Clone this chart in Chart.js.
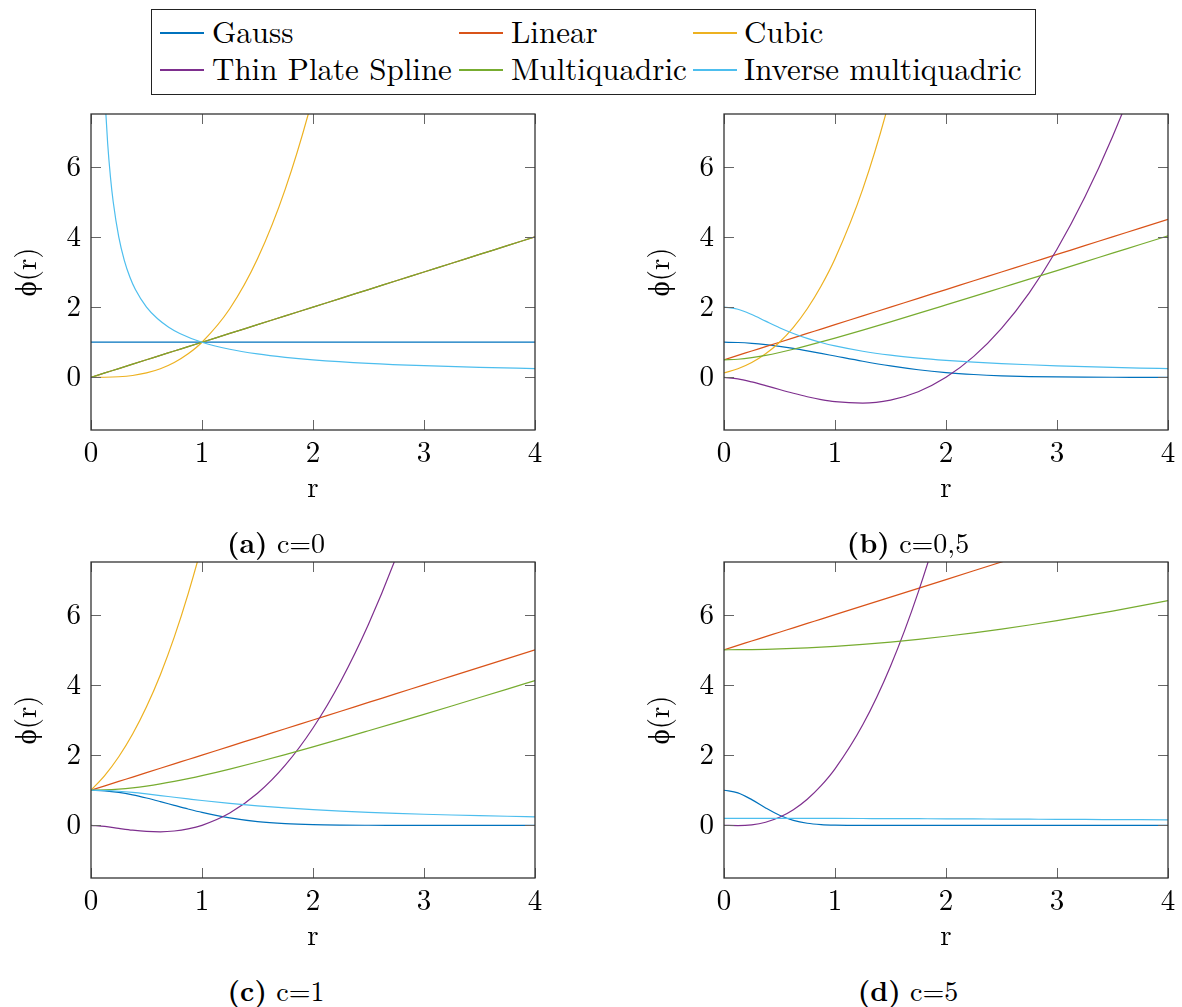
<!DOCTYPE html>
<html>
<head>
<meta charset="utf-8">
<title>Radial basis functions</title>
<script src="https://cdn.jsdelivr.net/npm/chart.js@4.4.1/dist/chart.umd.min.js"></script>
<style>
    body { margin: 0; background: #fff; }
    #page { position: relative; width: 1182px; height: 1007px; font-family: 'Latin Modern Roman', 'CMU Serif', 'Liberation Serif', serif; color: #000; overflow: hidden; }
    .panel { position: absolute; width: 549px; height: 420px; }
    .caption { position: absolute; font-size: 28px; line-height: 28px; transform: translate(-50%, -50%); white-space: nowrap; }
    #legendBox { position: absolute; left: 151px; top: 9px; width: 883px; height: 84px; border: 1px solid #222; }
    .lg-line { position: absolute; width: 44px; height: 1.5px; }
    .lg-text { position: absolute; font-size: 31px; line-height: 31px; white-space: nowrap; }
</style>
</head>
<body>
<div id="page">
    <div id="legendBox"></div>
    <div id="legend"></div>
    <div class="panel" style="left:0px;top:100px"><canvas id="chartA" width="549" height="420"></canvas></div>
    <div class="panel" style="left:633px;top:100px"><canvas id="chartB" width="549" height="420"></canvas></div>
    <div class="panel" style="left:0px;top:548px"><canvas id="chartC" width="549" height="420"></canvas></div>
    <div class="panel" style="left:633px;top:548px"><canvas id="chartD" width="549" height="420"></canvas></div>
    <div class="caption" style="left:276px;top:541px"><b>(a)</b> c=0</div>
    <div class="caption" style="left:908px;top:541px"><b>(b)</b> c=0,5</div>
    <div class="caption" style="left:276px;top:989px"><b>(c)</b> c=1</div>
    <div class="caption" style="left:908px;top:989px"><b>(d)</b> c=5</div>
</div>
<script>
// Datos
const r = [0, 0.125, 0.25, 0.375, 0.5, 0.625, 0.75, 0.875, 1, 1.25, 1.5, 1.75, 2, 2.25, 2.5, 2.75, 3, 3.25, 3.5, 3.75, 4];
// malla más fina cerca de 0 para la multicuádrica inversa con c=0
const rInv = [0.125, 0.15, 0.175, 0.2, 0.25, 0.3, 0.35, 0.4, 0.5, 0.6, 0.7, 0.8, 1, 1.25, 1.5, 1.75, 2, 2.5, 3, 3.5, 4];
const xTicks = [0, 1, 2, 3, 4];
const yTicks = [0, 2, 4, 6];
const seriesNames = ['Gauss', 'Linear', 'Cubic', 'Thin Plate Spline', 'Multiquadric', 'Inverse multiquadric'];
const seriesColors = ['#0072BD', '#D95319', '#EDB120', '#7E2F8E', '#77AC30', '#4DBEEE'];

// c = 0
const gaussC0 = [1, 1, 1, 1, 1, 1, 1, 1, 1, 1, 1, 1, 1, 1, 1, 1, 1, 1, 1, 1, 1];
const linearC0 = [0, 0.125, 0.25, 0.375, 0.5, 0.625, 0.75, 0.875, 1, 1.25, 1.5, 1.75, 2, 2.25, 2.5, 2.75, 3, 3.25, 3.5, 3.75, 4];
const cubicC0 = [0, 0.002, 0.016, 0.053, 0.125, 0.244, 0.422, 0.67, 1, 1.953, 3.375, 5.359, 8, 11.39, 15.63, 20.8, 27, 34.33, 42.88, 52.73, 64];
const tpsC0 = [null, null, null, null, null, null, null, null, null, null, null, null, null, null, null, null, null, null, null, null, null];
const mqC0 = [0, 0.125, 0.25, 0.375, 0.5, 0.625, 0.75, 0.875, 1, 1.25, 1.5, 1.75, 2, 2.25, 2.5, 2.75, 3, 3.25, 3.5, 3.75, 4];
const imqC0 = [8, 6.667, 5.714, 5, 4, 3.333, 2.857, 2.5, 2, 1.667, 1.429, 1.25, 1, 0.8, 0.667, 0.571, 0.5, 0.4, 0.333, 0.286, 0.25];

// c = 0,5
const gaussC05 = [1, 0.992, 0.969, 0.932, 0.882, 0.823, 0.755, 0.682, 0.607, 0.458, 0.325, 0.216, 0.135, 0.08, 0.044, 0.023, 0.011, 0.005, 0.002, 0.001, 0];
const linearC05 = [0.5, 0.625, 0.75, 0.875, 1, 1.125, 1.25, 1.375, 1.5, 1.75, 2, 2.25, 2.5, 2.75, 3, 3.25, 3.5, 3.75, 4, 4.25, 4.5];
const cubicC05 = [0.125, 0.244, 0.422, 0.67, 1, 1.424, 1.953, 2.6, 3.375, 5.359, 8, 11.39, 15.63, 20.8, 27, 34.33, 42.88, 52.73, 64, 76.77, 91.13];
const tpsC05 = [0, -0.043, -0.13, -0.235, -0.347, -0.454, -0.552, -0.633, -0.693, -0.734, -0.647, -0.409, 0, 0.596, 1.395, 2.408, 3.649, 5.128, 6.855, 8.84, 11.09];
const mqC05 = [0.5, 0.515, 0.559, 0.625, 0.707, 0.8, 0.901, 1.008, 1.118, 1.346, 1.581, 1.82, 2.062, 2.305, 2.55, 2.795, 3.041, 3.288, 3.536, 3.783, 4.031];
const imqC05 = [2, 1.94, 1.789, 1.6, 1.414, 1.249, 1.109, 0.992, 0.894, 0.743, 0.632, 0.549, 0.485, 0.434, 0.392, 0.358, 0.329, 0.304, 0.283, 0.264, 0.248];

// c = 1
const gaussC1 = [1, 0.984, 0.939, 0.869, 0.779, 0.677, 0.57, 0.465, 0.368, 0.21, 0.105, 0.047, 0.018, 0.006, 0.002, 0.001, 0, 0, 0, 0, 0];
const linearC1 = [1, 1.125, 1.25, 1.375, 1.5, 1.625, 1.75, 1.875, 2, 2.25, 2.5, 2.75, 3, 3.25, 3.5, 3.75, 4, 4.25, 4.5, 4.75, 5];
const cubicC1 = [1, 1.424, 1.953, 2.6, 3.375, 4.291, 5.359, 6.592, 8, 11.39, 15.63, 20.8, 27, 34.33, 42.88, 52.73, 64, 76.77, 91.13, 107.2, 125];
const tpsC1 = [0, -0.032, -0.087, -0.138, -0.173, -0.184, -0.162, -0.102, 0, 0.349, 0.912, 1.714, 2.773, 4.105, 5.727, 7.65, 9.888, 12.45, 15.35, 18.59, 22.18];
const mqC1 = [1, 1.008, 1.031, 1.068, 1.118, 1.179, 1.25, 1.329, 1.414, 1.601, 1.803, 2.016, 2.236, 2.462, 2.693, 2.926, 3.162, 3.4, 3.64, 3.881, 4.123];
const imqC1 = [1, 0.992, 0.97, 0.936, 0.894, 0.848, 0.8, 0.753, 0.707, 0.625, 0.555, 0.496, 0.447, 0.406, 0.371, 0.342, 0.316, 0.294, 0.275, 0.258, 0.243];

// c = 5
const gaussC5 = [1, 0.925, 0.732, 0.495, 0.287, 0.142, 0.06, 0.022, 0.007, 0, 0, 0, 0, 0, 0, 0, 0, 0, 0, 0, 0];
const linearC5 = [5, 5.125, 5.25, 5.375, 5.5, 5.625, 5.75, 5.875, 6, 6.25, 6.5, 6.75, 7, 7.25, 7.5, 7.75, 8, 8.25, 8.5, 8.75, 9];
const cubicC5 = [null, null, null, null, null, null, null, null, null, null, null, null, null, null, null, null, null, null, null, null, null];
const tpsC5 = [0, -0.007, 0.014, 0.088, 0.229, 0.445, 0.744, 1.13, 1.609, 2.863, 4.533, 6.643, 9.21, 12.25, 15.79, 19.82, 24.37, 29.45, 35.06, 41.22, 47.93];
const mqC5 = [5, 5.002, 5.006, 5.014, 5.025, 5.039, 5.056, 5.076, 5.099, 5.154, 5.22, 5.297, 5.385, 5.483, 5.59, 5.706, 5.831, 5.963, 6.103, 6.25, 6.403];
const imqC5 = [0.2, 0.2, 0.2, 0.199, 0.199, 0.198, 0.198, 0.197, 0.196, 0.194, 0.192, 0.189, 0.186, 0.182, 0.179, 0.175, 0.171, 0.168, 0.164, 0.16, 0.156];

Chart.defaults.font.family = "'Latin Modern Roman', 'CMU Serif', 'Liberation Serif', serif";
Chart.defaults.font.size = 29;
Chart.defaults.color = '#000';

// Marco del eje con marcas hacia dentro (estilo pgfplots)
const framePlugin = {
    id: 'frame',
    afterDatasetsDraw(chart) {
        const { ctx, chartArea: a, scales: { x, y } } = chart;
        const tick = 10;
        ctx.save();
        ctx.strokeStyle = '#666';
        ctx.lineWidth = 1;
        ctx.beginPath();
        xTicks.forEach(v => {
            const px = Math.round(x.getPixelForValue(v)) + 0.5;
            ctx.moveTo(px, a.bottom); ctx.lineTo(px, a.bottom - tick);
            ctx.moveTo(px, a.top); ctx.lineTo(px, a.top + tick);
        });
        yTicks.forEach(v => {
            const py = Math.round(y.getPixelForValue(v)) + 0.5;
            ctx.moveTo(a.left, py); ctx.lineTo(a.left + tick, py);
            ctx.moveTo(a.right, py); ctx.lineTo(a.right - tick, py);
        });
        ctx.stroke();
        ctx.strokeStyle = '#333';
        ctx.lineWidth = 1.3;
        ctx.strokeRect(a.left, a.top, a.right - a.left, a.bottom - a.top);
        ctx.restore();
    }
};

// series: lista de [valores, malla x] por curva
function makeChart(id, series) {
    return new Chart(document.getElementById(id), {
        type: 'line',
        data: {
            datasets: series.map(([vals, xs], i) => ({
                label: seriesNames[i],
                data: xs.map((v, k) => ({ x: v, y: vals[k] })),
                borderColor: seriesColors[i],
                borderWidth: 1.2,
                pointRadius: 0,
                fill: false,
                cubicInterpolationMode: 'monotone',
                order: seriesNames.length - i
            }))
        },
        options: {
            responsive: false,
            animation: false,
            devicePixelRatio: 1,
            layout: { padding: { left: 0, top: 14, right: 14, bottom: 0 } },
            plugins: { legend: { display: false }, tooltip: { enabled: false } },
            scales: {
                x: {
                    type: 'linear', min: 0, max: 4,
                    grid: { display: false, drawTicks: false },
                    border: { display: false },
                    ticks: { padding: 6, maxRotation: 0, autoSkip: false },
                    afterBuildTicks: s => { s.ticks = xTicks.map(v => ({ value: v })); },
                    afterFit: s => { s.height = 90; s.paddingLeft = 0; s.paddingRight = 0; },
                    title: { display: true, text: 'r', padding: { top: 0, bottom: 14 } }
                },
                y: {
                    type: 'linear', min: -1.5, max: 7.5,
                    grid: { display: false, drawTicks: false },
                    border: { display: false },
                    ticks: { padding: 10, autoSkip: false },
                    afterBuildTicks: s => { s.ticks = yTicks.map(v => ({ value: v })); },
                    afterFit: s => { s.width = 91; s.paddingTop = 0; s.paddingBottom = 0; },
                    title: { display: true, text: 'ϕ(r)', padding: { top: 10, bottom: 0 } }
                }
            }
        },
        plugins: [framePlugin]
    });
}

makeChart('chartA', [[gaussC0, r], [linearC0, r], [cubicC0, r], [tpsC0, r], [mqC0, r], [imqC0, rInv]]);
makeChart('chartB', [[gaussC05, r], [linearC05, r], [cubicC05, r], [tpsC05, r], [mqC05, r], [imqC05, r]]);
makeChart('chartC', [[gaussC1, r], [linearC1, r], [cubicC1, r], [tpsC1, r], [mqC1, r], [imqC1, r]]);
makeChart('chartD', [[gaussC5, r], [linearC5, r], [cubicC5, r], [tpsC5, r], [mqC5, r], [imqC5, r]]);

// Leyenda común
const legend = document.getElementById('legend');
const lineX = [160, 459, 693];
const textX = [212, 511, 744];
const rowY = [33, 70];
seriesNames.forEach((name, i) => {
    const col = i % 3, row = Math.floor(i / 3);
    const line = document.createElement('div');
    line.className = 'lg-line';
    line.style.left = lineX[col] + 'px';
    line.style.top = (rowY[row] - 0.75) + 'px';
    line.style.backgroundColor = seriesColors[i];
    legend.appendChild(line);
    const text = document.createElement('div');
    text.className = 'lg-text';
    text.style.left = textX[col] + 'px';
    text.style.top = (rowY[row] - 18.5) + 'px';
    text.textContent = name;
    legend.appendChild(text);
});
</script>
</body>
</html>
